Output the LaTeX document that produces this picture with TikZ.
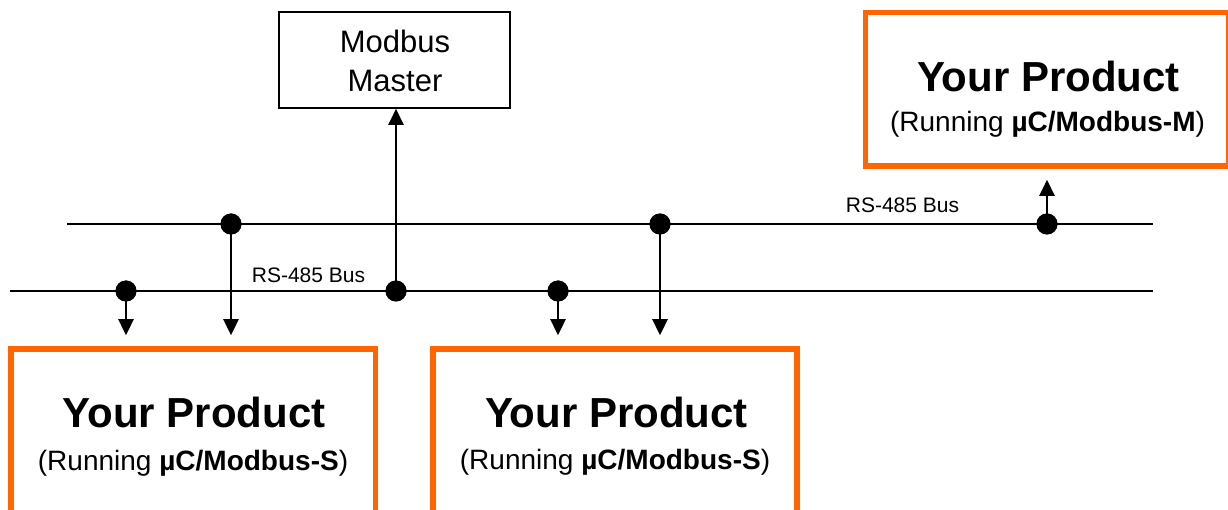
\documentclass[tikz,border=0pt]{standalone}
\usepackage{fontspec}
\setmainfont{Liberation Sans}
\usetikzlibrary{arrows.meta}
\definecolor{prodorange}{HTML}{FF6600}
\begin{document}
\begin{tikzpicture}[x=1pt,y=-1pt,
  bus/.style={line width=2pt},
  arr/.style={line width=2.4pt,-{Triangle[width=15pt,length=16pt]}},
  dot/.style={circle,fill=black,inner sep=0pt,minimum size=21pt},
  prodbox/.style={draw=prodorange,line width=5.5pt,inner sep=0pt},
  masterbox/.style={draw,line width=1.6pt,inner sep=0pt,minimum width=231pt,minimum height=96pt},
  lbl/.style={inner sep=0pt,anchor=base},
  bigtxt/.style={lbl,font=\fontsize{42}{48}\selectfont\bfseries},
  runtxt/.style={lbl,font=\fontsize{28}{32}\selectfont},
  mtxt/.style={lbl,font=\fontsize{31}{38}\selectfont},
  bustxt/.style={lbl,font=\fontsize{21}{24}\selectfont},
  ]
\useasboundingbox (0,0) rectangle (1228,510);
\clip (0,0) rectangle (1228,510);

% boxes
\node[masterbox] (master) at (394.5,60) {};
\node[prodbox,minimum width=363pt,minimum height=153.5pt] (pm) at (1047,89.3) {};
\node[prodbox,minimum width=364.5pt,minimum height=172pt] (ps1) at (193.3,435) {};
\node[prodbox,minimum width=364pt,minimum height=172pt] (ps2) at (615,435) {};

% box texts
\node[mtxt] (mt1) at (395,53) {Modbus};
\node[mtxt] (mt2) at (395,92) {Master};
\node[bigtxt] (pmt1) at (1048.5,92) {Your Product};
\node[runtxt] (pmt2) at (1047.5,131.5) {(Running \textbf{µC/Modbus-M})};
\node[bigtxt] (ps1t1) at (194,427) {Your Product};
\node[runtxt] (ps1t2) at (193,470) {(Running \textbf{µC/Modbus-S})};
\node[bigtxt] (ps2t1) at (616.5,427) {Your Product};
\node[runtxt] (ps2t2) at (615,469) {(Running \textbf{µC/Modbus-S})};

% buses
\coordinate (b1s) at (67,224);
\coordinate (b1e) at (1153,224);
\coordinate (b2s) at (10,291);
\coordinate (b2e) at (1153,291);
\draw[bus] (b1s) -- (b1e);
\draw[bus] (b2s) -- (b2e);
\node[bustxt] (bl1) at (902.5,213) {RS-485 Bus};
\node[bustxt] (bl2) at (308.5,283) {RS-485 Bus};

% taps
\node[dot] (d1) at (231,224) {};
\node[dot] (d2) at (660,224) {};
\node[dot] (d3) at (1047,224) {};
\node[dot] (d4) at (126,291) {};
\node[dot] (d5) at (396,291) {};
\node[dot] (d6) at (558,291) {};

\draw[arr,shorten >=11pt] (d4.center) -- (d4.center |- ps1.north);
\draw[arr,shorten >=11pt] (d1.center) -- (d1.center |- ps1.north);
\draw[arr,shorten >=11pt] (d6.center) -- (d6.center |- ps2.north);
\draw[arr,shorten >=11pt] (d2.center) -- (d2.center |- ps2.north);
\draw[arr] (d5.center) -- (d5.center |- master.south);
\draw[arr,shorten >=11pt] (d3.center) -- (d3.center |- pm.south);

% redraw dots on top
\foreach \d in {d1,d2,d3,d4,d5,d6} \fill (\d.center) circle (10.5pt);
\end{tikzpicture}
\end{document}
